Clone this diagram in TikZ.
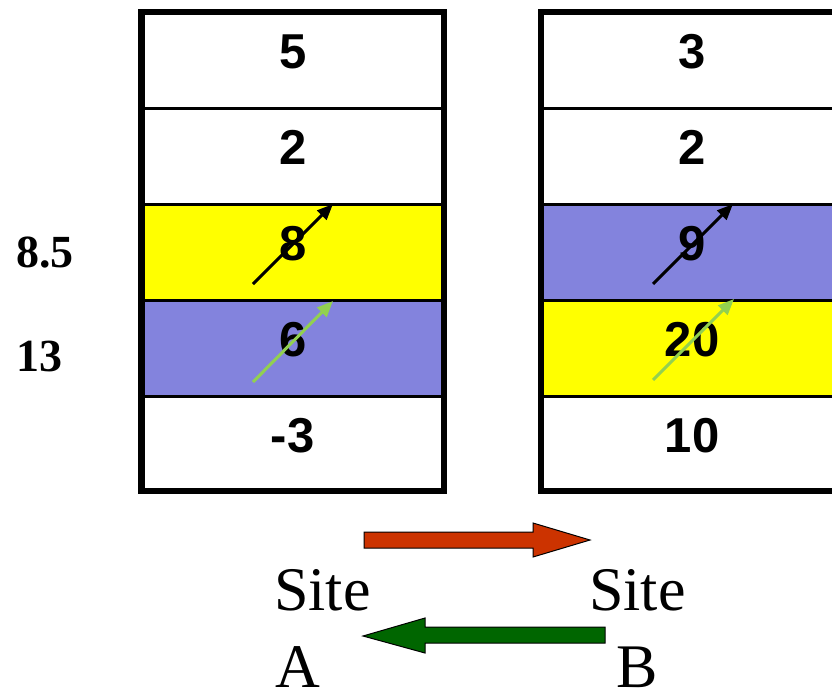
\documentclass[tikz,border=0pt]{standalone}
\usepackage{fontspec}
\setmainfont{Liberation Serif}
\setsansfont{Liberation Sans}
\usetikzlibrary{arrows.meta}
\definecolor{cellblue}{RGB}{131,131,221}
\definecolor{cellyellow}{RGB}{255,255,0}
\definecolor{pgreen}{RGB}{146,208,80}
\definecolor{bigred}{RGB}{204,51,0}
\definecolor{biggreen}{RGB}{0,102,0}
\tikzset{
  num/.style={anchor=base, font=\sffamily\bfseries\fontsize{49}{49}\selectfont, inner sep=0pt},
  sidelbl/.style={anchor=base west, font=\rmfamily\bfseries\fontsize{46}{46}\selectfont, inner sep=0pt},
  sitelbl/.style={font=\rmfamily\fontsize{62}{62}\selectfont, inner sep=0pt},
  divider/.style={line width=3pt},
  frame/.style={line width=6.5pt},
  smallarr/.style={line width=3pt, -{Triangle[length=16pt,width=13pt]}},
  bigarr/.style={draw=black, line width=1pt},
}
\begin{document}
\begin{tikzpicture}[x=1pt,y=-1pt]
\clip (0,0) rectangle (832,691);
\fill[white] (0,0) rectangle (832,691);
% ---------- left stack ----------
\fill[cellyellow] (141.5,204) rectangle (444,300);
\fill[cellblue] (141.5,300) rectangle (444,396);
\foreach \yy in {108,204,300,396} \draw[divider] (141.5,\yy) -- (444,\yy);
\draw[frame] (141.5,12) rectangle (444,491);
\node[num] (a1) at (292.75,68.5) {5};
\node[num] (a2) at (292.75,164.5) {2};
\node[num] (a3) at (292.75,260.5) {8};
\node[num] (a4) at (292.75,356.5) {6};
\node[num] (a5) at (292.75,452.5) {-3};
% ---------- right stack ----------
\fill[cellblue] (541,204) rectangle (843.5,300);
\fill[cellyellow] (541,300) rectangle (843.5,396);
\foreach \yy in {108,204,300,396} \draw[divider] (541,\yy) -- (843.5,\yy);
\draw[frame] (541,12) rectangle (843.5,491);
\node[num] (b1) at (692,68.5) {3};
\node[num] (b2) at (692,164.5) {2};
\node[num] (b3) at (692,260.5) {9};
\node[num] (b4) at (692,356.5) {20};
\node[num] (b5) at (692,452.5) {10};
% ---------- side labels ----------
\node[sidelbl] (l1) at (16,267.5) {8.5};
\node[sidelbl] (l2) at (16,371) {13};
% ---------- small arrows ----------
\coordinate (as1) at (253,284); \coordinate (ae1) at (333,204);
\coordinate (as2) at (253,382); \coordinate (ae2) at (333,301);
\coordinate (bs1) at (653,284); \coordinate (be1) at (733,204);
\coordinate (bs2) at (653,380); \coordinate (be2) at (734,299);
\draw[smallarr, black] (as1) -- (ae1);
\draw[smallarr, pgreen] (as2) -- (ae2);
\draw[smallarr, black] (bs1) -- (be1);
\draw[smallarr, pgreen] (bs2) -- (be2);
% ---------- big arrows ----------
\filldraw[bigarr, fill=bigred] (364,532) -- (533,532) -- (533,523) -- (590,540) -- (533,557) -- (533,548) -- (364,548) -- cycle;
\filldraw[bigarr, fill=biggreen] (605,627) -- (425,627) -- (425,618) -- (363,636) -- (425,653) -- (425,643) -- (605,643) -- cycle;
% ---------- site labels ----------
\node[sitelbl, anchor=base west] (sa1) at (274,610) {Site};
\node[sitelbl, anchor=base west] (sa2) at (275,687.5) {A};
\node[sitelbl, anchor=base] (sb1) at (637.5,610) {Site};
\node[sitelbl, anchor=base] (sb2) at (637.5,687.5) {B};
\end{tikzpicture}
\end{document}
